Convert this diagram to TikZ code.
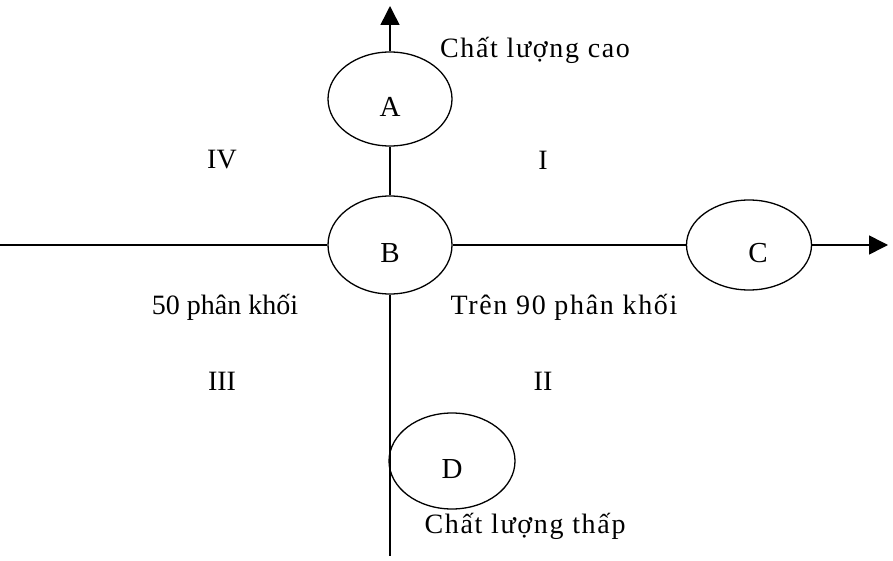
\documentclass[tikz,border=0pt]{standalone}
\usepackage{fontspec}
\setmainfont{Liberation Serif}
\newfontfamily\widefont[LetterSpace=6]{Liberation Serif}
\usetikzlibrary{shapes.geometric,arrows.meta}
\begin{document}
\begin{tikzpicture}[x=1pt,y=-1pt,
  oval/.style={ellipse,draw,line width=1.3pt,minimum width=124pt,minimum height=94pt,inner sep=0pt},
  letter/.style={font=\fontsize{29}{32}\selectfont,inner sep=0pt,yshift=-8pt},
  axis/.style={line width=1.5pt},
  tip/.style={-{Triangle[length=19pt,width=19pt]}},
  lbl/.style={font=\fontsize{28}{32}\selectfont,inner sep=0pt},
  wlbl/.style={font=\fontsize{28}{32}\widefont,inner sep=0pt}]
\useasboundingbox (0,0) rectangle (893,561);
\node[oval,label={[letter]center:A}] (A) at (390,99) {};
\node[oval,minimum height=98pt,label={[letter]center:B}] (B) at (390,245) {};
\node[oval,minimum width=125pt,minimum height=90pt,label={[letter,xshift=9pt]center:C}] (C) at (749,245) {};
\node[oval,minimum width=126pt,minimum height=96pt,label={[letter]center:D}] (D) at (452,461) {};
\coordinate (top) at (390,6);
\coordinate (left) at (0,245);
\coordinate (right) at (888,245);
\coordinate (bottom) at (390,556);
\draw[axis,tip] (A.north) -- (top);
\draw[axis] (A.south) -- (B.north);
\draw[axis] (left) -- (B.west);
\draw[axis] (B.east) -- (C.west);
\draw[axis,tip] (C.east) -- (right);
\draw[axis] (B.south) -- (bottom);
\node[wlbl] (hq) at (535,50) {Chất lượng cao};
\node[lbl] (q4) at (222,160) {IV};
\node[lbl] (q1) at (543,160) {I};
\node[lbl] (c50) at (225,307) {50 phân khối};
\node[wlbl] (c90) at (564,307) {Trên 90 phân khối};
\node[lbl] (q3) at (222,381) {III};
\node[lbl] (q2) at (543,381) {II};
\node[wlbl] (lq) at (525,526) {Chất lượng thấp};
\end{tikzpicture}
\end{document}
